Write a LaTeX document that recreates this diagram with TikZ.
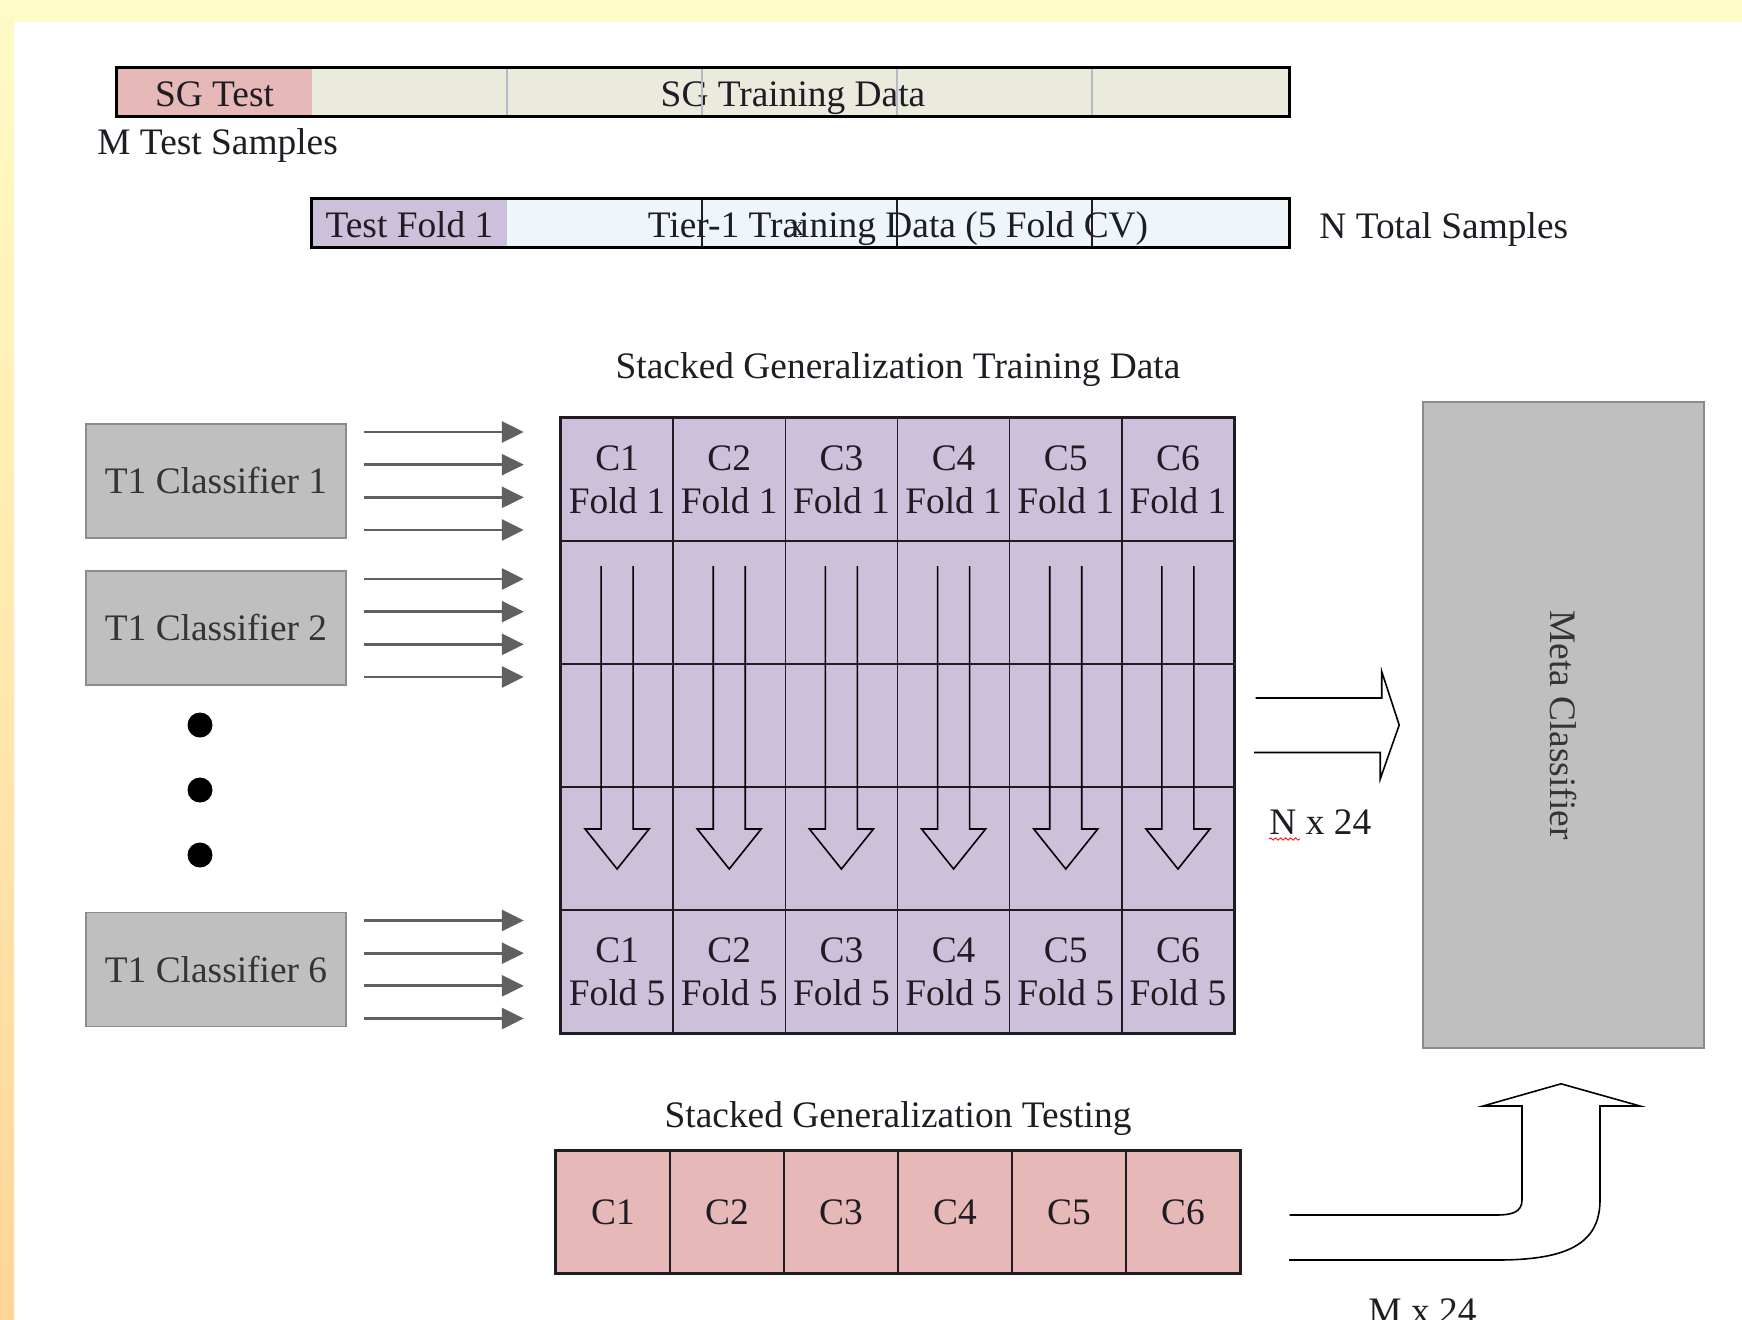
\documentclass[tikz,border=0pt]{standalone}
\usepackage{fontspec}
\setmainfont{Liberation Serif}
\usepackage{tikz}
\usetikzlibrary{arrows.meta,decorations.pathmorphing}

\definecolor{sgred}{RGB}{230,185,184}
\definecolor{sgbeige}{RGB}{235,235,221}
\definecolor{foldpurple}{RGB}{205,192,218}
\definecolor{tierblue}{RGB}{238,246,250}
\definecolor{boxgrey}{RGB}{191,191,191}
\definecolor{boxedge}{RGB}{140,140,140}
\definecolor{arrowgrey}{RGB}{96,96,96}
\definecolor{inkdark}{RGB}{32,28,36}
\definecolor{clstext}{RGB}{52,52,52}
\definecolor{lightrule}{RGB}{180,186,200}
\definecolor{topyellow}{RGB}{255,251,198}
\definecolor{sideorange}{RGB}{255,213,150}

\newcommand{\lblfont}{\fontsize{18.7}{21.5}\selectfont}

\tikzset{
  clsbox/.style={ draw=boxedge, fill=boxgrey, minimum width=130pt, minimum height=57pt, inner sep=0pt, line width=0.8pt, text=clstext }
}
\tikzset{
  metabox/.style={ draw=boxedge, fill=boxgrey, minimum width=323pt, minimum height=140.5pt, inner sep=0pt, line width=0.8pt, rotate=-90, text=clstext }
}
\tikzset{
  foldcell/.style={ draw=inkdark, fill=foldpurple, minimum width=56.08pt, minimum height=61.5pt, inner sep=0pt, line width=0.7pt, align=center, text=inkdark }
}
\tikzset{
  testcell/.style={ draw=inkdark, fill=sgred, minimum width=57pt, minimum height=60.5pt, inner sep=0pt, line width=0.7pt, text=inkdark }
}
\tikzset{
  barseg/.style={ minimum height=24pt, inner sep=0pt }
}
\tikzset{
  clsarrow/.style={ -{Triangle[length=11pt,width=10.5pt]}, line width=1.35pt, draw=arrowgrey }
}
\tikzset{
  hollowarrow/.style={ draw=black, line width=0.8pt, line join=miter }
}
\tikzset{
  bigdot/.style={ circle, fill=black, minimum size=12.5pt, inner sep=0pt }
}
\tikzset{
  lbl/.style={ inner sep=0pt, text=inkdark }
}
\tikzset{
  squiggle/.style={ draw=red, line width=0.4pt, decorate, decoration={snake, amplitude=0.6pt, segment length=2.5pt} }
}

\begin{document}
\begin{tikzpicture}[y=-0.5pt, x=0.5pt, font=\lblfont]
      \useasboundingbox (0,0) rectangle (1742,1319);
      % slide background
      \fill[white] (0,0) rectangle (1742,1319);
      \fill[topyellow] (0,0) rectangle (1742,22);
      \shade[top color=topyellow, bottom color=sideorange] (0,0) rectangle (14,1319);

      % SG split
      \node[barseg, fill=sgred, minimum width=97.5pt] (sgtest) at (214.5,92) {};
      \node[barseg, fill=sgbeige, minimum width=488.5pt] (sgtrain) at (800.5,92) {};
      \node[lbl, anchor=base] at (214.5,106) {SG Test};
      \node[lbl, anchor=base] at (793,106) {SG Training Data};
      \foreach \x in {507,702,897,1092}
        \draw[lightrule, line width=0.6pt] (\x,69) -- (\x,115);
      \draw[line width=1.5pt] (sgtest.north west) rectangle (sgtrain.south east);
      \node[lbl, anchor=base west] (mlbl) at (97,154) {M Test Samples};

      % tier-1 split
      \node[barseg, fill=foldpurple, minimum width=97.5pt] (tfold) at (409.5,223) {};
      \node[barseg, fill=tierblue, minimum width=391pt] (tier) at (898,223) {};
      \node[lbl, anchor=base] at (409.5,237) {Test Fold 1};
      \node[lbl, anchor=base] at (898,237) {Tier-1 Training Data (5 Fold CV)};
      \node[lbl, anchor=base, font=\fontsize{14}{16}\selectfont] at (797,235) {x};
      \foreach \x in {702,897,1092}
        \draw[inkdark, line width=0.6pt] (\x,200) -- (\x,246);
      \draw[line width=1.5pt] (tfold.north west) rectangle (tier.south east);
      \node[lbl, anchor=base west] (nlbl) at (1319,238) {N Total Samples};

      % tier-1 classifiers
      \node[clsbox] (cls1) at (216,481) {T1 Classifier 1};
      \node[clsbox] (cls2) at (216,628) {T1 Classifier 2};
      \node[bigdot] (dot1) at (200,725) {};
      \node[bigdot] (dot2) at (200,790) {};
      \node[bigdot] (dot3) at (200,855) {};
      \node[clsbox] (cls6) at (216,969.5) {T1 Classifier 6};
      \foreach \n in {1,2,6}
        \foreach \dy in {-49,-16.33,16.33,49}
          \draw[clsarrow] ([xshift=8.5pt]cls\n.east) ++(0,\dy) -- ++(160,0);

      % stacked generalization training data
      \node[lbl, anchor=base] (trainlbl) at (898,378) {Stacked Generalization Training Data};
      \foreach \c in {1,...,6} {
        \pgfmathsetmacro{\cx}{561+112.17*(\c-0.5)}
        \node[foldcell] (g1\c) at (\cx,479.5) {C\c\\Fold 1};
        \node[foldcell] (g2\c) at (\cx,602.5) {};
        \node[foldcell] (g3\c) at (\cx,725.5) {};
        \node[foldcell] (g4\c) at (\cx,848.5) {};
        \node[foldcell] (g5\c) at (\cx,971.5) {C\c\\Fold 5};
        \draw[hollowarrow] (\cx-16,566) -- (\cx-16,829) -- (\cx-32,829) -- (\cx,869)
          -- (\cx+32,829) -- (\cx+16,829) -- (\cx+16,566);
      }
      \draw[inkdark, line width=1.5pt] (g11.north west) rectangle (g56.south east);

      % stacked generalization testing
      \node[lbl, anchor=base] (testlbl) at (898,1127) {Stacked Generalization Testing};
      \foreach \c in {1,...,6}
        \node[testcell] (t\c) at ({556+114*(\c-0.5)},1212) {C\c};
      \draw[inkdark, line width=1.5pt] (t1.north west) rectangle (t6.south east);

      % meta classifier
      \node[metabox] (meta) at (1563.5,725) {Meta Classifier};

      % N x 24 into the meta classifier
      \draw[hollowarrow] (g36.east) ++(21,-27.5) -- ++(126,0) -- ++(0,-26.5)
        -- ([xshift=-11.5pt]meta.south) -- ++(-19,54) -- ++(0,-26.5) -- ++(-126,0);
      \node[lbl, anchor=base west] (nxlbl) at (1269,834) {N x 24};
      \draw[squiggle] ([yshift=-2.5pt]nxlbl.base west) -- ++(31,0);

      % M x 24 up into the meta classifier
      \draw[hollowarrow] (t6.east) ++(49,3) -- (1497,1215)
        .. controls (1512,1215) and (1522,1212) .. (1522,1200) -- (1522,1106) -- (1483,1106)
        -- ([xshift=-1.25pt, yshift=-17.5pt]meta.east) -- (1640,1106) -- (1600,1106) -- (1600,1200)
        .. controls (1600,1245) and (1565,1260) .. (1497,1260) -- (1289,1260);
      \node[lbl, anchor=base west] (mxlbl) at (1368,1323) {M x 24};
    \end{tikzpicture}
\end{document}
